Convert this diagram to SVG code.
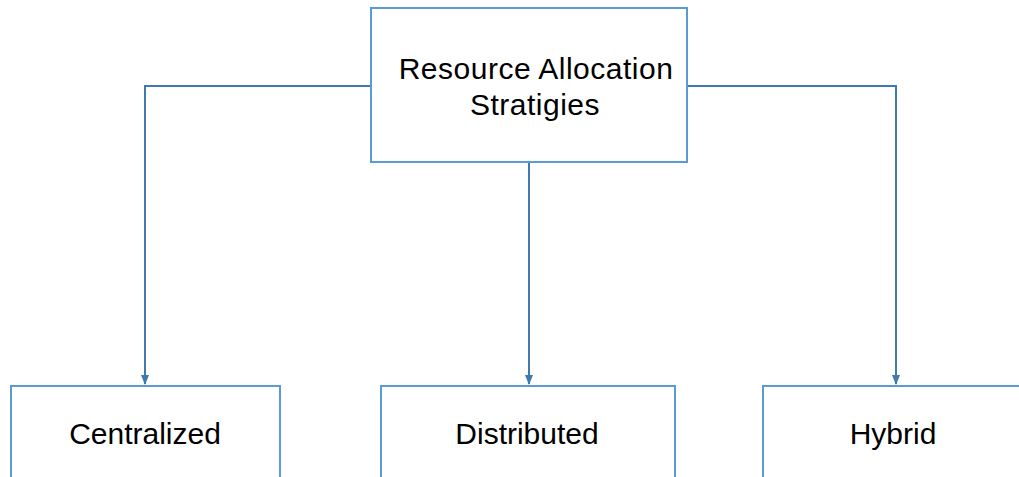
<svg xmlns="http://www.w3.org/2000/svg" width="1019" height="477" viewBox="0 0 1019 477">
<defs>
<style>
.box{fill:#fff;stroke:#5B9BD5;stroke-width:2}
.lbl{font-family:"Liberation Sans",Arial,sans-serif;font-size:30px;fill:#000;text-anchor:middle}
.top{letter-spacing:0.5px}
.con{fill:none;stroke:#3E79B0;stroke-width:2}
</style>
<marker id="ah" markerWidth="10" markerHeight="10" refX="9" refY="5" orient="auto" markerUnits="userSpaceOnUse">
<path d="M0,1 L10,5 L0,9 Z" fill="#3E79B0"/>
</marker>
</defs>
<rect width="1019" height="477" fill="#fff"/>
<g id="connectors">
<path class="con" d="M371,86 H145 V384" marker-end="url(#ah)"/>
<path class="con" d="M529,162 V384" marker-end="url(#ah)"/>
<path class="con" d="M687,86 H896 V384" marker-end="url(#ah)"/>
</g>
<g id="root">
<rect class="box" x="371" y="8" width="316" height="154"/>
<text class="lbl top" x="536" y="79">Resource Allocation</text>
<text class="lbl top" x="535" y="115">Stratigies</text>
</g>
<g id="centralized">
<rect class="box" x="11" y="386" width="269" height="110"/>
<text class="lbl" x="145" y="444">Centralized</text>
</g>
<g id="distributed">
<rect class="box" x="381" y="386" width="294" height="110"/>
<text class="lbl" x="527" y="444">Distributed</text>
</g>
<g id="hybrid">
<rect class="box" x="763" y="386" width="280" height="110"/>
<text class="lbl" x="893" y="444">Hybrid</text>
</g>
</svg>
